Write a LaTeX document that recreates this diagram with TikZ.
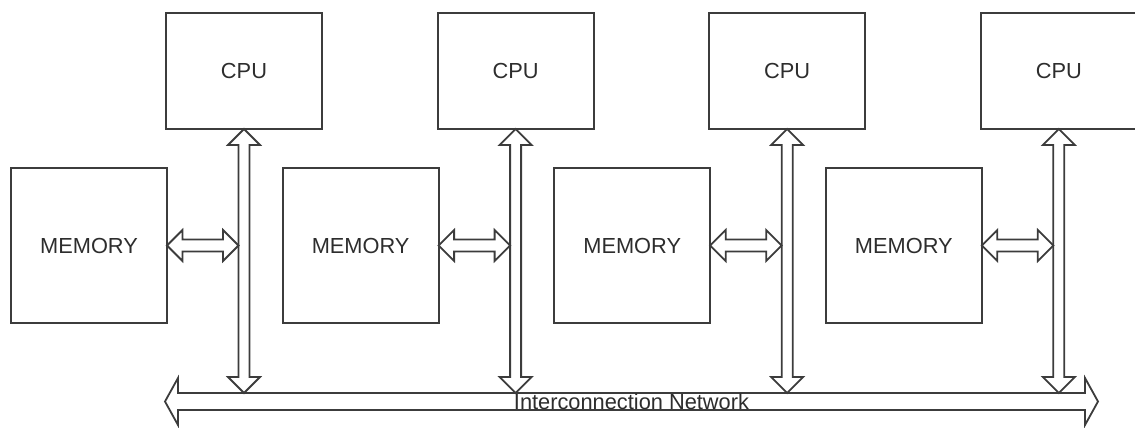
\documentclass[tikz,border=0pt]{standalone}
\usepackage{fontspec}
\setmainfont{Liberation Sans}
\usepackage{tikz}
\usetikzlibrary{positioning,calc}
\definecolor{boxline}{RGB}{60,60,60}
\definecolor{boxtext}{RGB}{45,45,45}
\tikzstyle{cpubox} = [rectangle, minimum width=78pt, minimum height=58pt, outer sep=0pt, draw=boxline, line width=0.9pt, text=boxtext]
\tikzstyle{membox} = [rectangle, minimum width=78pt, minimum height=77.5pt, outer sep=0pt, draw=boxline, line width=0.9pt, text=boxtext]
\tikzstyle{busline} = [draw=boxline, line width=0.9pt, fill=white]
% hollow double-headed bus arrow: from, to, half shaft, half head, head length
\newcommand{\busarrow}[5]{%
  \coordinate (ba1) at ($(#1)!#5!(#2)$);
  \coordinate (ba2) at ($(#2)!#5!(#1)$);
  \draw[busline] (#1) -- ($(ba1)!#4!90:(#2)$) -- ($(ba1)!#3!90:(#2)$)
    -- ($(ba2)!#3!-90:(#1)$) -- ($(ba2)!#4!-90:(#1)$) -- (#2)
    -- ($(ba2)!#4!90:(#1)$) -- ($(ba2)!#3!90:(#1)$)
    -- ($(ba1)!#3!-90:(#2)$) -- ($(ba1)!#4!-90:(#2)$) -- cycle;
}

\begin{document}
\begin{tikzpicture}[x=0.5pt, y=-0.5pt, font=\fontsize{10.9}{13}\selectfont]
\useasboundingbox (0,0) rectangle (1135,428);
% Processors
\node[cpubox] (cpu1) at (244,71) {CPU};
\node[cpubox, right=57.8pt of cpu1] (cpu2) {CPU};
\node[cpubox, right=57.8pt of cpu2] (cpu3) {CPU};
\node[cpubox, right=57.8pt of cpu3] (cpu4) {CPU};

% Memories
\node[membox, below left=19.5pt and -0.5pt of cpu1] (mem1) {MEMORY};
\node[membox, below left=19.5pt and -0.5pt of cpu2] (mem2) {MEMORY};
\node[membox, below left=19.5pt and -0.5pt of cpu3] (mem3) {MEMORY};
\node[membox, below left=19.5pt and -0.5pt of cpu4] (mem4) {MEMORY};

% Network
\coordinate (netL) at (165,401.5);
\coordinate (netR) at (1098,401.5);
\busarrow{netL}{netR}{4.25pt}{11.75pt}{6.5pt}
\node[text=boxtext] (net) at ($(netL)!0.5!(netR)$) {Interconnection Network};

% Processor to network
\coordinate (tap1) at ($(cpu1.south |- netL)+(0,-8.5)$);
\coordinate (tap2) at ($(cpu2.south |- netL)+(0,-8.5)$);
\coordinate (tap3) at ($(cpu3.south |- netL)+(0,-8.5)$);
\coordinate (tap4) at ($(cpu4.south |- netL)+(0,-8.5)$);
\busarrow{cpu1.south}{tap1}{2.75pt}{8pt}{8pt}
\busarrow{cpu2.south}{tap2}{2.75pt}{8pt}{8pt}
\busarrow{cpu3.south}{tap3}{2.75pt}{8pt}{8pt}
\busarrow{cpu4.south}{tap4}{2.75pt}{8pt}{8pt}

% Memory to bus
\coordinate (link1) at ($(cpu1.south |- mem1.east)+(-5.5,0)$);
\coordinate (link2) at ($(cpu2.south |- mem2.east)+(-5.5,0)$);
\coordinate (link3) at ($(cpu3.south |- mem3.east)+(-5.5,0)$);
\coordinate (link4) at ($(cpu4.south |- mem4.east)+(-5.5,0)$);
\busarrow{mem1.east}{link1}{3pt}{7.75pt}{7.75pt}
\busarrow{mem2.east}{link2}{3pt}{7.75pt}{7.75pt}
\busarrow{mem3.east}{link3}{3pt}{7.75pt}{7.75pt}
\busarrow{mem4.east}{link4}{3pt}{7.75pt}{7.75pt}
\end{tikzpicture}
\end{document}
